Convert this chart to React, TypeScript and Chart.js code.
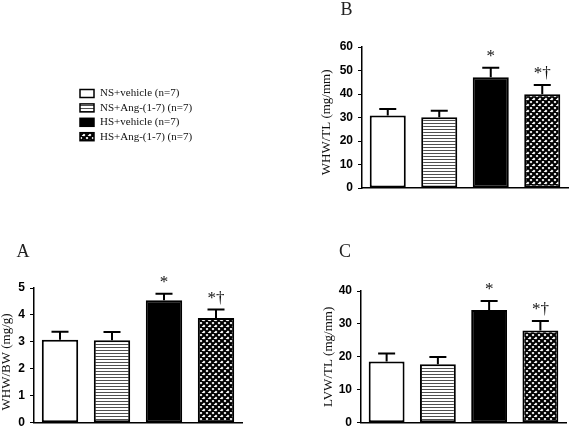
import { useEffect, useRef } from 'react';
import { Chart, registerables } from 'chart.js';

Chart.register(...registerables);

const categories = ['NS+vehicle (n=7)', 'NS+Ang-(1-7) (n=7)', 'HS+vehicle (n=7)', 'HS+Ang-(1-7) (n=7)'];
const markers = ['', '', '*', '*\u2020'];

const meanA = [3.08, 3.06, 4.55, 3.89];
const semA = [0.3, 0.31, 0.24, 0.31];
const meanB = [30.8, 30.1, 47.1, 39.9];
const semB = [2.8, 2.8, 4.1, 3.9];
const meanC = [18.6, 17.8, 34.2, 28.0];
const semC = [2.4, 2.2, 2.8, 2.9];

const axisA = { max: 5, step: 1, title: 'WHW/BW (mg/g)' };
const axisB = { max: 60, step: 10, title: 'WHW/TL (mg/mm)' };
const axisC = { max: 40, step: 10, title: 'LVW/TL (mg/mm)' };

const SERIF = '"Liberation Serif", "Times New Roman", serif';
const SANS = '"Liberation Sans", Arial, sans-serif';

function makeFills(): any[] {
  const stripe = document.createElement('canvas');
  stripe.width = 4;
  stripe.height = 3;
  const s = stripe.getContext('2d')!;
  s.fillStyle = '#ffffff';
  s.fillRect(0, 0, 4, 3);
  s.fillStyle = '#505050';
  s.fillRect(0, 0, 4, 1);

  const hatch = document.createElement('canvas');
  hatch.width = 6;
  hatch.height = 6;
  const h = hatch.getContext('2d')!;
  h.fillStyle = '#ffffff';
  h.fillRect(0, 0, 6, 6);
  h.strokeStyle = '#000000';
  h.lineWidth = 2.2;
  h.beginPath();
  for (const k of [-6, 0, 6]) {
    h.moveTo(k - 1, -1);
    h.lineTo(k + 7, 7);
  }
  for (const k of [0, 6, 12]) {
    h.moveTo(k + 1, -1);
    h.lineTo(k - 7, 7);
  }
  h.stroke();
  return ['#ffffff', s.createPattern(stripe, 'repeat'), '#000000', h.createPattern(hatch, 'repeat')];
}

type PanelCfg = {
  mean: number[];
  sem: number[];
  axis: { max: number; step: number; title: string };
  titleShift: number;
  letter: string;
  letterDx: number;
  letterDy: number;
  padding: { left: number; right: number; top: number; bottom: number };
  yWidth: number;
  legend?: boolean;
};

function makeChart(canvas: HTMLCanvasElement, cfg: PanelCfg, fills: any[]) {
  const extras = {
    id: 'extras',
    afterDatasetsDraw(chart: any) {
      const ctx = chart.ctx as CanvasRenderingContext2D;
      const meta = chart.getDatasetMeta(0);
      const y = chart.scales.y;
      ctx.save();
      ctx.strokeStyle = '#000';
      ctx.lineWidth = 2;
      meta.data.forEach((bar: any, i: number) => {
        const top = y.getPixelForValue(cfg.mean[i] + cfg.sem[i]);
        ctx.beginPath();
        ctx.moveTo(bar.x, bar.y);
        ctx.lineTo(bar.x, top);
        ctx.moveTo(bar.x - 8.5, top);
        ctx.lineTo(bar.x + 8.5, top);
        ctx.stroke();
        if (markers[i]) {
          ctx.fillStyle = '#111';
          ctx.font = `17px ${SERIF}`;
          ctx.textAlign = 'center';
          ctx.textBaseline = 'alphabetic';
          ctx.fillText(markers[i], bar.x, top - 7);
        }
      });
      const area = chart.chartArea;
      ctx.fillStyle = '#222';
      ctx.font = `18px ${SERIF}`;
      ctx.textAlign = 'center';
      ctx.textBaseline = 'alphabetic';
      ctx.fillText(cfg.letter, area.left + cfg.letterDx, area.top + cfg.letterDy + 6);

      if (cfg.legend) {
        const bx = 80;
        const bw = 14;
        const bh = 8;
        categories.forEach((label, i) => {
          const cy = 93.5 + i * 14.4;
          ctx.fillStyle = fills[i];
          ctx.fillRect(bx, cy - bh / 2, bw, bh);
          ctx.lineWidth = 1.5;
          ctx.strokeStyle = '#000';
          ctx.strokeRect(bx, cy - bh / 2, bw, bh);
          ctx.fillStyle = '#111';
          ctx.font = `11px ${SERIF}`;
          ctx.textAlign = 'left';
          ctx.textBaseline = 'middle';
          ctx.fillText(label, bx + bw + 6, cy);
        });
      }
      ctx.restore();
    },
  };

  return new Chart(canvas, {
    type: 'bar',
    data: {
      labels: categories,
      datasets: [
        {
          data: cfg.mean,
          backgroundColor: fills,
          borderColor: '#000',
          borderWidth: 2,
          borderSkipped: false,
          barPercentage: 0.7,
          categoryPercentage: 1,
        } as any,
      ],
    },
    options: {
      responsive: false,
      animation: false,
      events: [],
      layout: { padding: cfg.padding },
      plugins: { legend: { display: false }, tooltip: { enabled: false } },
      scales: {
        x: {
          ticks: { display: false },
          grid: { display: false, drawTicks: false },
          border: { display: true, color: '#000', width: 1.5 },
          afterFit: (s: any) => {
            s.height = 0;
          },
        },
        y: {
          min: 0,
          max: cfg.axis.max,
          ticks: {
            stepSize: cfg.axis.step,
            color: '#000',
            padding: 5,
            font: { family: SANS, size: 12, weight: 'bold' },
          },
          grid: { display: true, drawOnChartArea: false, drawTicks: true, tickLength: 4, color: '#000', lineWidth: 1 },
          border: { display: true, color: '#000', width: 1.5 },
          title: {
            display: true,
            text: cfg.axis.title + ' '.repeat(cfg.titleShift),
            color: '#111',
            font: { family: SERIF, size: 13, lineHeight: 1 },
            padding: { top: 0, bottom: 0 },
          },
          afterFit: (s: any) => {
            s.width = cfg.yWidth;
          },
        },
      },
    } as any,
    plugins: [extras],
  });
}

export default function App() {
  const refA = useRef<HTMLCanvasElement>(null);
  const refB = useRef<HTMLCanvasElement>(null);
  const refC = useRef<HTMLCanvasElement>(null);

  useEffect(() => {
    const fills = makeFills();
    const b = makeChart(
      refB.current!,
      {
        mean: meanB,
        sem: semB,
        axis: axisB,
        titleShift: 3,
        letter: 'B',
        letterDx: -15.5,
        letterDy: -38,
        padding: { left: 320, right: 1, top: 47, bottom: 27 },
        yWidth: 42,
        legend: true,
      },
      fills
    );
    const a = makeChart(
      refA.current!,
      {
        mean: meanA,
        sem: semA,
        axis: axisA,
        titleShift: 4,
        letter: 'A',
        letterDx: -11,
        letterDy: -37,
        padding: { left: 0, right: 48, top: 73, bottom: 6 },
        yWidth: 34,
      },
      fills
    );
    const c = makeChart(
      refC.current!,
      {
        mean: meanC,
        sem: semC,
        axis: axisC,
        titleShift: 0,
        letter: 'C',
        letterDx: -16,
        letterDy: -40,
        padding: { left: 32, right: 3, top: 76, bottom: 6 },
        yWidth: 39,
      },
      fills
    );
    return () => {
      a.destroy();
      b.destroy();
      c.destroy();
    };
  }, []);

  return (
    <div style={{ position: 'fixed', left: 0, top: 0, width: 569, height: 435, background: '#fff', overflow: 'hidden' }}>
      <canvas ref={refB} width={569} height={215} style={{ position: 'absolute', left: 0, top: 0, width: 569, height: 215 }} />
      <canvas ref={refA} width={290} height={220} style={{ position: 'absolute', left: 0, top: 215, width: 290, height: 220 }} />
      <canvas ref={refC} width={279} height={220} style={{ position: 'absolute', left: 290, top: 215, width: 279, height: 220 }} />
    </div>
  );
}
